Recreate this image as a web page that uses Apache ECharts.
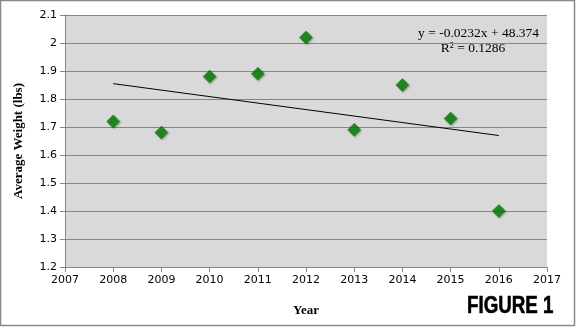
<!DOCTYPE html>
<html><head><meta charset="utf-8">
<script src="https://cdn.jsdelivr.net/npm/echarts@6/dist/echarts.min.js"></script>
<style>html,body{margin:0;padding:0;background:#fff}#c{width:576px;height:327px}</style>
</head><body><div id="c"></div>
<script>
const years = [2008, 2009, 2010, 2011, 2012, 2013, 2014, 2015, 2016];
const weights = [1.72, 1.68, 1.88, 1.89, 2.02, 1.69, 1.85, 1.73, 1.40];
const equationText = 'y = -0.0232x + 48.374';
const r2Text = 'R² = 0.1286';

// least-squares trend line from the data
const n = years.length;
const mx = years.reduce((a,b)=>a+b,0)/n;
const my = weights.reduce((a,b)=>a+b,0)/n;
let sxy=0,sxx=0;
for(let i=0;i<n;i++){sxy+=(years[i]-mx)*(weights[i]-my);sxx+=(years[i]-mx)**2;}
const slope=sxy/sxx, icpt=my-slope*mx;
const trendX=[years[0], years[n-1]];
const trend=trendX.map(x=>[x, slope*x+icpt]);

const chart = echarts.init(document.getElementById('c'));
chart.setOption({
  animation:false,
  grid:{left:65,right:29,top:15,bottom:60,show:true,backgroundColor:'#d9d9d9',borderWidth:0},
  graphic:[
    {type:'rect',shape:{x:0.5,y:0.5,width:574,height:325},style:{fill:'none',stroke:'#888',lineWidth:1.5}},
    {type:'text',x:539,y:26,style:{text:equationText,font:'13.5px "Liberation Serif"',fill:'#000',textAlign:'right'}},
    {type:'text',x:473,y:41,style:{text:r2Text,font:'13.5px "Liberation Serif"',fill:'#000',textAlign:'center'}},
    {type:'text',x:467,y:306,scaleX:0.78,
      style:{text:'FIGURE 1',font:'bold 24px "Liberation Sans"',fill:'#000',verticalAlign:'middle',
      stroke:'#000',lineWidth:0.6,
      shadowColor:'rgba(20,40,120,0.7)',shadowOffsetX:1,shadowOffsetY:0,shadowBlur:0}}
  ],
  xAxis:{type:'value',min:2007,max:2017,interval:1,
    name:'Year',nameLocation:'middle',nameGap:37,
    nameTextStyle:{fontFamily:'Liberation Serif',fontWeight:'bold',fontSize:13,color:'#000'},
    axisLine:{show:true,lineStyle:{color:'#868686'}},
    axisTick:{show:true,length:5,lineStyle:{color:'#868686'}},
    splitLine:{show:false},
    axisLabel:{fontFamily:'DejaVu Sans',fontSize:11,color:'#000',margin:8,formatter:v=>String(v)}},
  yAxis:{type:'value',min:1.2,max:2.1,interval:0.1,
    name:'Average Weight (lbs)',nameLocation:'middle',nameGap:40,
    nameTextStyle:{fontFamily:'Liberation Serif',fontWeight:'bold',fontSize:13,color:'#000'},
    axisLine:{show:true,lineStyle:{color:'#868686'}},
    axisTick:{show:true,length:5,lineStyle:{color:'#868686'}},
    splitLine:{show:true,lineStyle:{color:'#868686',width:1}},
    axisLabel:{fontFamily:'DejaVu Sans',fontSize:11,color:'#000',margin:8,
      formatter:v=>String(Math.round(v*10)/10)}},
  series:[
    {type:'line',data:trend,symbol:'none',lineStyle:{color:'#000',width:1},silent:true,z:2},
    {type:'scatter',data:years.map((y,i)=>[y,weights[i]]),symbol:'diamond',symbolSize:[13,13],
      itemStyle:{color:'#008000',borderColor:'#006400',borderWidth:0.5,shadowColor:'rgba(0,0,0,0.35)',shadowBlur:2,shadowOffsetX:1,shadowOffsetY:1},z:3}
  ]
});
</script></body></html>
